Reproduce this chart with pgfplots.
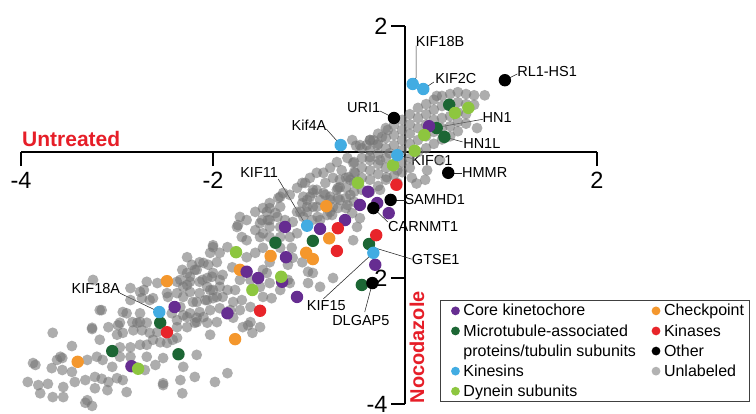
\documentclass[border=0pt]{standalone}
\usepackage{fontspec}
\setmainfont{Liberation Sans}
\usepackage{pgfplots}
\usepackage{pgfplotstable}
\pgfplotsset{compat=1.18}

\definecolor{kcore}{RGB}{102,45,145}
\definecolor{mtap}{RGB}{28,102,52}
\definecolor{kines}{RGB}{66,172,226}
\definecolor{dyn}{RGB}{141,198,63}
\definecolor{chk}{RGB}{244,151,45}
\definecolor{kin}{RGB}{232,37,42}
\definecolor{oth}{RGB}{0,0,0}
\definecolor{unl}{RGB}{118,118,118}
\definecolor{axred}{RGB}{230,30,40}

% log2 ratios: untreated (x) vs nocodazole (y)
\pgfplotstableread{
x y
-0.78 -0.76
-0.78 -0.95
-0.70 -0.57
-0.70 -0.73
-0.70 -0.89
-0.615 -0.41
-0.615 -0.57
-0.615 -0.73
-0.615 -0.89
-0.53 -0.16
-0.53 -0.32
-0.53 -0.48
-0.53 -0.63
-0.53 -0.79
-0.45 0.06
-0.45 -0.095
-0.45 -0.25
-0.45 -0.41
-0.45 -0.60
-0.365 0.19
-0.365 0.03
-0.365 -0.13
-0.365 -0.29
-0.365 -0.44
-0.365 -0.63
-0.28 0.29
-0.28 0.13
-0.28 -0.03
-0.28 -0.19
-0.28 -0.35
-0.28 -0.54
-0.20 0.38
-0.20 0.22
-0.20 0.06
-0.20 -0.095
-0.20 -0.25
-0.20 -0.44
-0.115 0.43
-0.115 0.27
-0.115 0.11
-0.115 -0.21
-0.115 -0.37
-0.03 0.51
-0.03 0.35
-0.03 0.19
-0.03 0.03
-0.03 -0.16
-0.03 -0.32
0.05 0.60
0.05 0.44
0.05 0.29
0.05 0.13
0.05 -0.095
0.05 -0.25
0.135 0.70
0.135 0.54
0.135 0.38
0.135 0.19
0.135 0.0
0.22 0.76
0.22 0.60
0.22 0.44
0.22 0.25
0.22 0.06
0.30 0.83
0.30 0.67
0.30 0.51
0.30 0.32
0.30 0.13
0.385 0.89
0.385 0.73
0.385 0.54
0.385 0.38
0.385 0.20
0.47 0.92
0.47 0.76
0.47 0.57
0.47 0.41
0.47 0.25
0.55 0.95
0.55 0.79
0.55 0.63
0.55 0.48
0.55 0.33
0.635 0.92
0.635 0.76
0.635 0.60
0.635 0.45
0.72 0.90
0.72 0.75
0.83 0.90
0.75 0.38
0.33 0.89
0.23 -0.29
0.07 -0.41
0.21 -0.44
0.365 -0.13
0.12 -0.50
-0.33 0.19
-0.40 0.11
-0.51 0.10
-0.55 0.19
-0.60 -0.095
-0.54 -0.175
-0.71 -0.16
-0.66 -0.29
-0.78 -0.25
-0.85 -0.33
-0.92 -0.33
-0.99 -0.41
-1.07 -0.49
-1.125 -0.57
-1.20 -0.68
-1.27 -0.65
-1.32 -0.73
-1.41 -0.81
-1.30 -0.87
-1.35 -0.97
-1.44 -0.95
-1.49 -1.08
-1.41 -1.08
-1.25 -1.08
-1.125 -0.95
-1.07 -0.81
-0.99 -0.71
-0.92 -0.60
-0.83 -0.49
-0.75 -0.41
-0.68 -0.44
-0.59 -0.40
-0.52 -0.33
-0.71 -0.60
-0.78 -0.71
-0.885 -0.76
-0.96 -0.87
-1.02 -0.95
-0.68 -0.76
-0.75 -0.87
-0.81 -1.00
-0.885 -1.08
-0.97 -1.08
-1.02 -0.76
-0.60 -0.84
-0.57 -0.68
-0.26 -0.60
-0.08 -0.49
-0.19 -0.40
-0.08 -0.29
-0.16 -0.02
-0.26 -0.13
-0.365 -0.08
-0.47 0.11
-0.365 0.19
-0.29 0.11
-0.24 0.24
-0.18 0.35
-1.30 -0.71
-1.06 -0.71
-0.96 -0.65
-0.83 -0.68
-1.02 -0.87
-0.92 -0.87
-1.09 -0.95
-1.41 -0.89
-1.33 -1.03
-1.43 -1.08
-1.51 -1.13
-1.41 -1.19
-1.30 -1.19
-1.17 -1.11
-1.125 -1.29
-1.20 -1.35
-1.30 -1.35
-1.41 -1.35
-1.51 -1.35
-1.56 -1.24
-1.65 -1.40
-1.74 -1.16
-1.70 -1.35
-1.85 -1.51
-1.93 -1.60
-2.00 -1.48
-1.96 -1.75
-2.05 -1.79
-2.14 -1.75
-2.19 -1.87
-2.27 -1.92
-2.32 -1.87
-2.34 -2.03
-2.24 -2.06
-2.11 -2.03
-2.01 -1.98
-1.90 -1.95
-1.80 -1.83
-1.65 -1.67
-1.56 -1.60
-1.48 -1.52
-1.30 -1.52
-1.18 -1.52
-1.17 -1.68
-1.07 -1.75
-1.22 -1.79
-1.41 -1.75
-1.48 -1.87
-1.41 -2.08
-1.51 -2.14
-1.61 -2.03
-1.72 -2.03
-1.77 -2.19
-1.85 -2.19
-1.93 -2.14
-2.03 -2.19
-2.14 -2.24
-2.24 -2.22
-2.31 -2.30
-2.21 -2.38
-2.08 -2.35
-2.00 -2.32
-1.90 -2.30
-1.79 -2.38
-1.70 -2.35
-1.61 -2.46
-1.72 -2.51
-1.82 -2.51
-1.93 -2.48
-2.03 -2.51
-2.14 -2.54
-2.24 -2.56
-2.31 -2.59
-2.17 -2.70
-2.06 -2.71
-1.96 -2.70
-1.61 -2.70
-1.51 -2.78
-1.39 -2.32
-1.30 -2.19
-1.20 -2.08
-0.96 -1.92
-0.75 -2.00
-0.885 -2.14
-1.01 -2.08
-2.00 -1.51
-2.03 -1.60
-2.27 -1.67
-2.10 -1.76
-2.17 -1.87
-2.24 -1.98
-2.375 -2.06
-2.27 -2.11
-2.14 -2.06
-2.06 -2.00
-2.00 -1.92
-1.93 -2.03
-2.00 -2.19
-2.06 -2.14
-2.17 -2.38
-2.06 -2.35
-1.96 -2.30
-2.58 -2.08
-2.69 -2.06
-2.76 -2.22
-2.86 -2.16
-3.25 -2.03
-3.16 -2.51
-2.94 -2.54
-2.76 -2.56
-2.66 -2.35
-2.47 -2.30
-2.34 -2.46
-2.27 -2.62
-2.17 -2.63
-2.10 -2.62
-2.375 -2.67
-2.69 -2.71
-2.79 -2.71
-2.99 -2.75
-3.09 -2.78
-3.26 -2.79
-3.18 -2.51
-3.67 -2.87
-3.26 -2.81
-3.47 -3.08
-3.18 -2.98
-3.85 -3.38
-3.625 -3.30
-3.57 -3.27
-3.68 -3.43
-3.57 -3.46
-3.93 -3.65
-3.82 -3.70
-3.72 -3.68
-3.80 -3.83
-3.56 -3.73
-3.67 -3.89
-3.56 -3.89
-3.44 -3.65
-3.33 -3.62
-3.47 -3.49
-3.31 -3.30
-3.21 -3.25
-3.15 -3.30
-3.05 -3.41
-3.23 -3.57
-3.16 -3.60
-3.09 -3.65
-3.00 -3.59
-3.23 -3.75
-3.10 -3.78
-3.33 -3.98
-3.26 -4.03
-2.94 -3.62
-2.90 -3.81
-2.97 -3.25
-2.86 -3.25
-2.81 -3.41
-2.69 -3.25
-2.60 -3.38
-2.71 -3.46
-2.52 -3.27
-2.52 -3.70
-2.34 -3.62
-2.31 -3.41
-2.32 -3.83
-2.19 -3.57
-2.97 -3.10
-2.86 -3.10
-2.76 -3.06
-3.00 -2.90
-2.94 -2.87
-2.83 -2.83
-2.74 -2.83
-2.66 -2.87
-2.58 -2.86
-2.69 -3.06
-2.55 -3.02
-2.97 -2.71
-2.84 -2.70
-2.76 -2.70
-2.90 -2.56
-2.86 -2.35
-2.74 -2.32
-2.625 -2.32
-2.72 -2.19
-2.48 -2.24
-2.375 -2.24
-2.43 -2.56
-2.19 -2.71
-2.375 -2.78
-2.27 -2.78
-2.31 -2.14
-2.48 -3.03
-2.375 -2.95
-3.875 -3.35
-3.59 -3.25
-3.31 -3.94
-2.52 -3.67
-2.17 -3.22
-1.98 -3.65
-1.85 -3.51
-2.03 -2.90
-2.625 -2.98
-2.42 -2.98
-1.69 -2.78
-1.59 -2.87
-1.79 -2.63
-1.635 -2.75
-1.48 -2.30
-1.44 -1.92
-1.01 -1.90
-1.22 -2.03
-2.22 -1.79
-1.48 -1.29
-1.04 -0.49
-0.96 -0.60
-0.85 -0.65
-0.68 -0.56
-0.57 -0.44
-1.06 -1.03
-0.91 -1.03
-0.76 -1.00
-0.55 -0.97
-0.50 -1.19
-0.54 -1.40
-0.47 -1.05
-1.72 -1.03
-1.75 -1.19
-1.65 -1.08
-1.56 -0.95
-1.48 -0.89
}\unlabeled

\pgfplotstableread{
x y
-0.47 -0.84
-1.25 -1.19
-0.885 -1.22
-0.625 -1.08
-0.31 -1.79
-1.24 -1.67
-1.65 -1.90
-1.53 -2.00
-1.28 -2.06
-1.125 -2.30
-1.85 -2.56
-2.40 -2.46
-2.85 -3.40
-0.385 -0.63
-0.29 -0.81
-0.17 -0.97
0.25 0.41
}\corekt

\pgfplotstableread{
x y
-1.35 -1.44
-0.96 -1.41
-0.375 -1.46
-0.45 -2.11
-2.55 -2.71
-3.05 -3.16
-2.36 -3.21
0.46 0.75
0.33 0.38
0.41 0.24
}\microtub

\pgfplotstableread{
x y
0.08 1.08
0.19 1.00
-0.67 0.11
-0.08 -0.05
-1.02 -1.17
-0.33 -1.60
-2.56 -2.54
}\kinesins

\pgfplotstableread{
x y
0.52 0.62
0.66 0.70
0.20 0.27
0.10 0.02
-0.125 -0.21
-0.49 -0.49
-1.76 -1.59
-1.29 -1.98
-1.59 -2.19
-2.78 -3.44
}\dynein

\pgfplotstableread{
x y
-0.82 -0.86
-0.79 -1.37
-1.40 -1.65
-1.03 -1.60
-0.96 -1.70
-1.72 -1.87
-2.48 -2.05
-1.77 -2.97
-3.41 -3.33
}\checkpt

\pgfplotstableread{
x y
-0.09 -0.52
-0.70 -1.21
-0.30 -1.32
-0.71 -1.57
-1.51 -2.52
-2.48 -2.86
}\kinases

\pgfplotstableread{
x y
1.04 1.14
-0.115 0.54
0.45 -0.33
-0.15 -0.76
-0.33 -0.89
-0.34 -2.08
}\other

\pgfplotsset{
  grp/.style={only marks, mark=*, mark size=6.2pt, color=#1,
    mark options={draw opacity=0, fill=#1}, forget plot},
  legdot/.style={legend image code/.code={%
      \path[draw=none, fill=none] (0pt,-4.4pt) rectangle (18pt,4.4pt);
      \fill[#1, draw=none] (12pt,0pt) circle (4.4pt);}},
}
\tikzset{lead/.style={line width=0.55pt, black!85},
  gname/.style={font=\fontsize{14.5}{16}\selectfont, inner sep=0pt}}

\begin{document}
\begin{tikzpicture}
\begin{axis}[
  x=96pt, y=63pt,
  xmin=-4, xmax=2, ymin=-4, ymax=2,
  axis lines=middle,
  axis line style={-, line width=1.5pt},
  clip=false,
  xtick={-4,-2,2}, xticklabels={-4,-2,2},
  ytick={-4,-2,2}, yticklabels={-4,-2,2},
  tick align=outside,
  major tick length=14pt,
  major tick style={line width=1.5pt, black},
  tick label style={font=\fontsize{23.5}{28}\selectfont},
  xticklabel style={yshift=-3pt},
  legend columns=2,
  legend cell align=left,
  legend style={at={(0.7275,0.2754)}, anchor=north west,
    draw=black!75, line width=0.8pt,
    font=\fontsize{16}{19}\selectfont,
    row sep=3pt,
    /tikz/every even column/.append style={column sep=6pt}},
]
\addplot[only marks, mark=*, mark size=5.4pt, color=unl,
  mark options={draw opacity=0, fill=unl, fill opacity=0.6}, forget plot]
  table {\unlabeled};
\addplot[grp=chk] table {\checkpt};
\addplot[grp=mtap] table {\microtub};
\addplot[grp=kcore] table {\corekt};
\addplot[grp=kin] table {\kinases};
\addplot[grp=dyn] table {\dynein};
\addplot[grp=kines] table {\kinesins};
\addplot[grp=oth] table {\other};

% gene name call-outs
\draw[lead] (axis cs:0.115,1.69) -- (axis cs:0.115,1.18) -- (axis cs:0.085,1.10);
\node[gname] at (axis cs:0.365,1.76) {KIF18B};
\draw[lead] (axis cs:0.19,1.00) -- (axis cs:0.30,1.11);
\node[gname] at (axis cs:0.53,1.17) {KIF2C};
\draw[lead] (axis cs:1.04,1.14) -- (axis cs:1.17,1.24);
\node[gname] at (axis cs:1.48,1.27) {RL1-HS1};
\draw[lead] (axis cs:-0.26,0.65) -- (axis cs:-0.115,0.54);
\node[gname] at (axis cs:-0.43,0.71) {URI1};
\draw[lead] (axis cs:-0.82,0.365) -- (axis cs:-0.67,0.11);
\node[gname] at (axis cs:-1.00,0.43) {Kif4A};
\draw[lead] (axis cs:0.365,0.40) -- (axis cs:0.81,0.52);
\node[gname] at (axis cs:0.96,0.54) {HN1};
\draw[lead] (axis cs:0.41,0.24) -- (axis cs:0.60,0.16);
\node[gname] at (axis cs:0.80,0.14) {HN1L};
\draw[lead] (axis cs:-0.08,-0.05) -- (axis cs:0.07,-0.10);
\node[gname] at (axis cs:0.28,-0.13) {KIFC1};
\draw[lead] (axis cs:0.45,-0.33) -- (axis cs:0.59,-0.33);
\node[gname] at (axis cs:0.83,-0.33) {HMMR};
\draw[lead] (axis cs:-0.15,-0.76) -- (axis cs:0.0,-0.76);
\node[gname] at (axis cs:0.31,-0.76) {SAMHD1};
\draw[lead] (axis cs:-0.33,-0.89) -- (axis cs:-0.18,-1.11);
\node[gname] at (axis cs:0.19,-1.19) {CARNMT1};
\draw[lead] (axis cs:-0.34,-1.51) -- (axis cs:0.07,-1.70);
\node[gname] at (axis cs:0.32,-1.71) {GTSE1};
\draw[lead] (axis cs:-1.32,-0.43) -- (axis cs:-1.04,-1.14);
\node[gname] at (axis cs:-1.52,-0.33) {KIF11};
\draw[lead] (axis cs:-0.85,-2.33) -- (axis cs:-0.33,-1.60);
\node[gname] at (axis cs:-0.82,-2.43) {KIF15};
\draw[lead] (axis cs:-0.42,-2.54) -- (axis cs:-0.34,-2.08);
\node[gname] at (axis cs:-0.46,-2.68) {DLGAP5};
\draw[lead] (axis cs:-2.97,-2.24) -- (axis cs:-2.60,-2.51);
\node[gname] at (axis cs:-3.22,-2.17) {KIF18A};

% condition names on the axes
\node[anchor=base west, inner sep=0pt, text=axred,
  font=\bfseries\fontsize{21}{24}\selectfont] at (axis cs:-3.99,0.095) {Untreated};
\node[anchor=base, rotate=90, inner sep=0pt, text=axred,
  font=\bfseries\fontsize{20}{24}\selectfont] at (axis cs:0.198,-3.10) {Nocodazole};

\addlegendimage{legdot=kcore}\addlegendentry{Core kinetochore}
\addlegendimage{legdot=chk}\addlegendentry{Checkpoint}
\addlegendimage{legdot=mtap}\addlegendentry{Microtubule-associated}
\addlegendimage{legdot=kin}\addlegendentry{Kinases}
\addlegendimage{legend image code/.code={}}\addlegendentry{proteins/tubulin subunits\rule[-11pt]{0pt}{11pt}}
\addlegendimage{legdot=oth}\addlegendentry{Other}
\addlegendimage{legdot=kines}\addlegendentry{Kinesins}
\addlegendimage{legdot={black!30}}\addlegendentry{Unlabeled}
\addlegendimage{legdot=dyn}\addlegendentry{Dynein subunits\rule[-12pt]{0pt}{12pt}}

\coordinate (bbA) at (axis cs:-4.219,2.413);
\coordinate (bbB) at (axis cs:3.656,-4.143);
\end{axis}
\pgfresetboundingbox
\useasboundingbox (bbA) rectangle (bbB);
\end{tikzpicture}
\end{document}
